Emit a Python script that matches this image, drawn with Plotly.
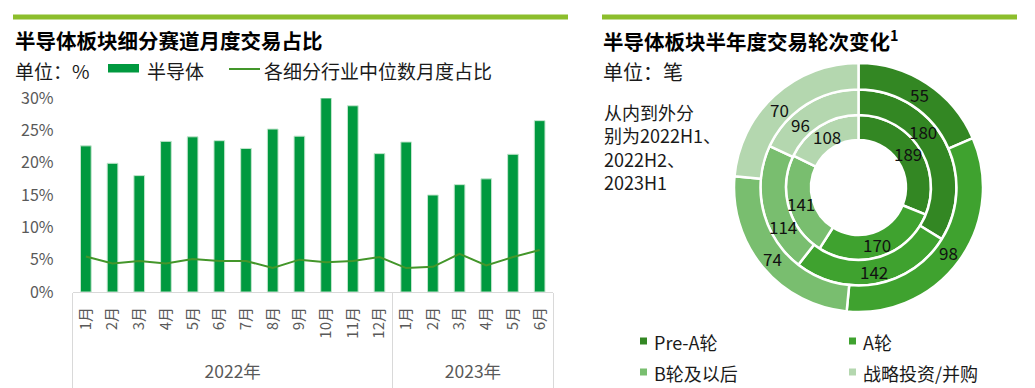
import math
import plotly.graph_objects as go

# ---------------- data ----------------
years = ["2022年"] * 12 + ["2023年"] * 6
months = ["1月", "2月", "3月", "4月", "5月", "6月", "7月", "8月", "9月", "10月", "11月", "12月",
          "1月", "2月", "3月", "4月", "5月", "6月"]
semi_share = [22.6, 19.9, 18.0, 23.3, 24.0, 23.4, 22.2, 25.2, 24.1, 30.0, 28.8, 21.4,
              23.2, 15.0, 16.6, 17.5, 21.3, 26.5]
median_share = [5.5, 4.4, 4.8, 4.4, 5.1, 4.8, 4.8, 3.7, 5.0, 4.6, 4.8, 5.4,
                3.7, 3.9, 5.9, 4.1, 5.4, 6.5]
y_ticks = [0, 5, 10, 15, 20, 25, 30]
y_tick_labels = ["0%", "5%", "10%", "15%", "20%", "25%", "30%"]

rounds = ["Pre-A轮", "A轮", "B轮及以后", "战略投资/并购"]
deals_2022h1 = [189, 170, 141, 108]
deals_2022h2 = [180, 142, 114, 96]
deals_2023h1 = [55, 98, 74, 70]

# ---------------- style ----------------
W, H = 1035, 388
OFF = 8  # page body margin of the html page
FONT = "Noto Sans CJK SC"
BAR_C = "#00993F"
LINE_C = "#43962A"
HEAD_C = "#8CBE2C"
AX_C = "#D9D9D9"
TXT_GRAY = "#595959"
ROUND_COLORS = ["#338723", "#3FA22F", "#79BE6F", "#B4D7AF"]
LABEL_SIZE = 17
LABEL_BOX_H = 22


def px_x(x):
    return (x - OFF) / W


def px_y(y):
    return (H - (y - OFF)) / H


# category keys (unique per month) and year groups
keys = [f"{y}-{m}" for y, m in zip(years, months)]
n = len(keys)
group_names = []
for y in years:
    if y not in group_names:
        group_names.append(y)
group_idx = [[i for i, y in enumerate(years) if y == g] for g in group_names]
group_centers = [(idx[0] + idx[-1]) / 2 for idx in group_idx]
group_bounds = [group_idx[0][0] - 0.5] + [idx[-1] + 0.5 for idx in group_idx]

fig = go.Figure()

# ---------------- left chart ----------------
fig.add_trace(go.Bar(
    x=keys, y=semi_share, name="半导体",
    marker=dict(color=BAR_C, line=dict(color="#C4E6CE", width=1)),
    showlegend=False,
))
fig.add_trace(go.Scatter(
    x=keys, y=median_share, name="各细分行业中位数月度占比",
    mode="lines", line=dict(color=LINE_C, width=2), showlegend=False,
))
# carrier for the year-group axis
fig.add_trace(go.Scatter(
    x=group_centers, y=[None] * len(group_centers), xaxis="x2", yaxis="y",
    mode="markers", showlegend=False, hoverinfo="skip",
))

shapes = []
annotations = []

# ---------------- right chart (nested donuts) ----------------
cx, cy = 858.5, 187.5
rings = [
    (deals_2022h1, 72.5, 47.5),
    (deals_2022h2, 98.0, 72.5),
    (deals_2023h1, 124.5, 98.0),
]
placed = []  # (x, y, w) of value labels already placed


def collides(x, y, w):
    for px_, py_, pw in placed:
        if abs(x - px_) < (w + pw) / 2 and abs(y - py_) < LABEL_BOX_H:
            return True
    return False


for vals, r_out, r_in in rings:
    fig.add_trace(go.Pie(
        labels=rounds, values=vals, sort=False, direction="clockwise", rotation=0,
        hole=r_in / r_out,
        domain=dict(x=[px_x(cx - r_out), px_x(cx + r_out)],
                    y=[px_y(cy + r_out), px_y(cy - r_out)]),
        marker=dict(colors=ROUND_COLORS, line=dict(color="white", width=2.5)),
        textinfo="none",
        showlegend=False, hoverinfo="label+value",
    ))
    # value labels in the middle of each slice (nudged back along the ring if they would collide)
    total = sum(vals)
    cum = 0
    r_mid = (r_out + r_in) / 2
    for v in vals:
        a0 = cum / total * 360
        a1 = (cum + v) / total * 360
        cum += v
        mid = (a0 + a1) / 2
        w = len(str(v)) * LABEL_SIZE * 0.553 + 2

        def pos(a):
            return (cx + r_mid * math.sin(math.radians(a)),
                    cy - r_mid * math.cos(math.radians(a)))

        best = pos(mid)
        if collides(*best, w):
            limit = (a1 - a0) / 2 - 5
            candidates = [mid - k for k in range(1, int(limit))] + [mid + k for k in range(1, int(limit))]
            for a in candidates:
                if not collides(*pos(a), w):
                    best = pos(a)
                    break
        placed.append((best[0], best[1], w))
        annotations.append(dict(text=str(v), x=px_x(best[0]), y=px_y(best[1]), xref="paper", yref="paper",
                                xanchor="center", yanchor="middle", showarrow=False,
                                font=dict(family=FONT, size=LABEL_SIZE, color="#111111")))

# header bars
shapes.append(dict(type="rect", xref="paper", yref="paper", x0=px_x(13), x1=px_x(568),
                   y0=px_y(19.5), y1=px_y(14.5), fillcolor=HEAD_C, line=dict(width=0)))
shapes.append(dict(type="rect", xref="paper", yref="paper", x0=px_x(602), x1=px_x(1017),
                   y0=px_y(19.5), y1=px_y(14.5), fillcolor=HEAD_C, line=dict(width=0)))

# titles
annotations.append(dict(text="<b>半导体板块细分赛道月度交易占比</b>", x=px_x(13), y=px_y(39.5),
                        xref="paper", yref="paper", xanchor="left", yanchor="middle",
                        showarrow=False, font=dict(family=FONT, size=20.5, color="#000000")))
annotations.append(dict(text="<b>半导体板块半年度交易轮次变化<sup>1</sup></b>", x=px_x(601), y=px_y(39.5),
                        xref="paper", yref="paper", xanchor="left", yanchor="middle",
                        showarrow=False, font=dict(family=FONT, size=20.5, color="#000000")))

# left legend row
annotations.append(dict(text="单位：%", x=px_x(13), y=px_y(71), xref="paper", yref="paper",
                        xanchor="left", yanchor="middle", showarrow=False,
                        font=dict(family=FONT, size=19, color="#1a1a1a")))
shapes.append(dict(type="rect", xref="paper", yref="paper", x0=px_x(108), x1=px_x(139),
                   y0=px_y(72.5), y1=px_y(64), fillcolor=BAR_C, line=dict(width=0)))
annotations.append(dict(text="半导体", x=px_x(145), y=px_y(71), xref="paper", yref="paper",
                        xanchor="left", yanchor="middle", showarrow=False,
                        font=dict(family=FONT, size=19, color="#1a1a1a")))
shapes.append(dict(type="line", xref="paper", yref="paper", x0=px_x(229), x1=px_x(260),
                   y0=px_y(69), y1=px_y(69), line=dict(color=LINE_C, width=2)))
annotations.append(dict(text="各细分行业中位数月度占比", x=px_x(262), y=px_y(71), xref="paper", yref="paper",
                        xanchor="left", yanchor="middle", showarrow=False,
                        font=dict(family=FONT, size=19, color="#1a1a1a")))

# right text
annotations.append(dict(text="单位：笔", x=px_x(601), y=px_y(71.5), xref="paper", yref="paper",
                        xanchor="left", yanchor="middle", showarrow=False,
                        font=dict(family=FONT, size=20, color="#1a1a1a")))
annotations.append(dict(text="从内到外分<br>别为2022H1、<br>2022H2、<br>2023H1",
                        x=px_x(602), y=px_y(147), xref="paper", yref="paper",
                        xanchor="left", yanchor="middle", align="left", showarrow=False,
                        font=dict(family=FONT, size=18, color="#1a1a1a")))

# right legend (2 x 2)
leg_pos = [(640, 341), (849, 341), (640, 372), (849, 372)]
for (lx, ly), name, col in zip(leg_pos, rounds, ROUND_COLORS):
    shapes.append(dict(type="rect", xref="paper", yref="paper", x0=px_x(lx), x1=px_x(lx + 7),
                       y0=px_y(ly + 3.5), y1=px_y(ly - 3.5), fillcolor=col, line=dict(width=0)))
    annotations.append(dict(text=name, x=px_x(lx + 12), y=px_y(ly + 1), xref="paper", yref="paper",
                            xanchor="left", yanchor="middle", showarrow=False,
                            font=dict(family=FONT, size=18, color="#1a1a1a")))

x_domain = [px_x(72.5), px_x(553)]
fig.update_layout(
    width=W, height=H,
    margin=dict(l=0, r=0, t=0, b=0, pad=0),
    paper_bgcolor="white", plot_bgcolor="white",
    font=dict(family=FONT, color=TXT_GRAY),
    bargap=0.6,
    shapes=shapes, annotations=annotations,
    xaxis=dict(
        type="category", categoryorder="array", categoryarray=keys,
        tickvals=keys, ticktext=months,
        range=[-0.5, n - 0.5],
        domain=x_domain,
        showline=True, linecolor=AX_C, linewidth=1,
        showgrid=False, zeroline=False,
        tickangle=-90, tickfont=dict(family=FONT, size=15, color=TXT_GRAY),
        ticks="", ticklabelstandoff=8, automargin=False,
    ),
    xaxis2=dict(
        overlaying="x", anchor="y", side="bottom",
        type="linear", range=[-0.5, n - 0.5],
        tickvals=group_centers, ticktext=group_names,
        tickfont=dict(family=FONT, size=17.5, color=TXT_GRAY),
        ticks="", ticklabelstandoff=67,
        minor=dict(tickvals=group_bounds, ticks="outside", ticklen=100,
                   tickcolor=AX_C, tickwidth=1),
        showline=False, showgrid=False, zeroline=False, automargin=False,
    ),
    yaxis=dict(
        domain=[px_y(292), px_y(98)],
        range=[0, 30], tickvals=y_ticks, ticktext=y_tick_labels,
        showgrid=False, zeroline=False, showline=False,
        ticks="", ticklabelstandoff=18, automargin=False,
        tickfont=dict(family=FONT, size=16, color=TXT_GRAY),
    ),
)

fig.write_html("out.html")
